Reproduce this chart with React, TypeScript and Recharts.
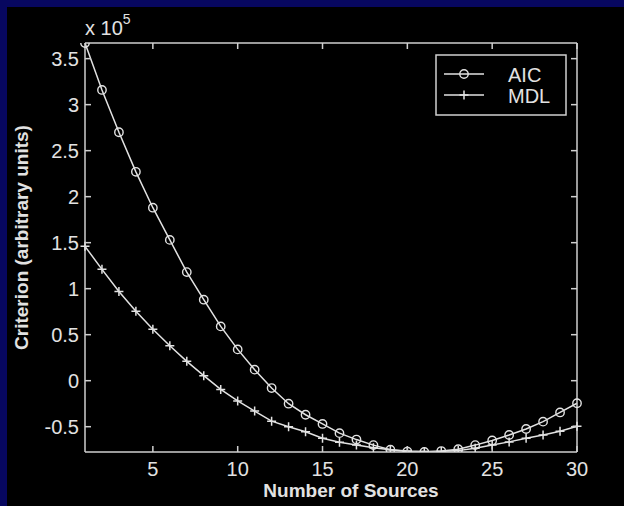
import React from "react";
import {
  LineChart,
  Line,
  XAxis,
  YAxis,
  Legend,
} from "recharts";

// number of sources (x)
const sources = [
  1, 2, 3, 4, 5, 6, 7, 8, 9, 10, 11, 12, 13, 14, 15,
  16, 17, 18, 19, 20, 21, 22, 23, 24, 25, 26, 27, 28, 29, 30,
];

// criterion values, in units of 1e5
const aic = [
  3.67, 3.16, 2.7, 2.27, 1.88, 1.53, 1.18, 0.88, 0.59, 0.34,
  0.12, -0.08, -0.25, -0.37, -0.47, -0.57, -0.64, -0.7, -0.75, -0.77,
  -0.775, -0.765, -0.745, -0.7, -0.65, -0.59, -0.525, -0.445, -0.345, -0.245,
];

const mdl = [
  1.46, 1.21, 0.97, 0.755, 0.56, 0.38, 0.21, 0.055, -0.095, -0.22,
  -0.33, -0.44, -0.5, -0.555, -0.625, -0.67, -0.7, -0.73, -0.75, -0.765,
  -0.77, -0.77, -0.76, -0.735, -0.7, -0.665, -0.625, -0.59, -0.55, -0.495,
];

const xTicks = [5, 10, 15, 20, 25, 30];
const yTicks = [-0.5, 0, 0.5, 1, 1.5, 2, 2.5, 3, 3.5];
const yDomain = [-0.775, 3.67];

const data = sources.map((n, i) => ({ n, aic: aic[i], mdl: mdl[i] }));

const FG = "#e2e2e2";
const AXIS = "#cfcfcf";
const NAVY = "#07075f";
const FONT = '"Liberation Sans", Arial, Helvetica, sans-serif';

function BottomTick({ x, y, payload }: any) {
  return (
    <g>
      <line x1={x} y1={y} x2={x} y2={y - 6} stroke={AXIS} strokeWidth={1.5} />
      <text x={x} y={y + 24} textAnchor="middle" fill={FG} fontSize={20} fontFamily={FONT}>
        {payload.value}
      </text>
    </g>
  );
}

function TopTick({ x, y }: any) {
  return <line x1={x} y1={y} x2={x} y2={y + 6} stroke={AXIS} strokeWidth={1.5} />;
}

function LeftTick({ x, y, payload }: any) {
  return (
    <g>
      <line x1={x} y1={y} x2={x + 6} y2={y} stroke={AXIS} strokeWidth={1.5} />
      <text x={x - 6} y={y} dy="0.36em" textAnchor="end" fill={FG} fontSize={20} fontFamily={FONT}>
        {payload.value}
      </text>
    </g>
  );
}

function RightTick({ x, y }: any) {
  return <line x1={x} y1={y} x2={x - 6} y2={y} stroke={AXIS} strokeWidth={1.5} />;
}

function CircleDot({ cx, cy, index }: any) {
  return <circle key={`c${index}`} cx={cx} cy={cy} r={4.2} fill="none" stroke={FG} strokeWidth={1.4} />;
}

function PlusDot({ cx, cy, index }: any) {
  return (
    <path
      key={`p${index}`}
      d={`M${cx - 4.5},${cy}H${cx + 4.5}M${cx},${cy - 4.5}V${cy + 4.5}`}
      stroke={FG}
      strokeWidth={1.5}
    />
  );
}

function LegendBox() {
  return (
    <svg width={132} height={62} style={{ display: "block" }}>
      <rect x={1} y={1} width={130} height={60} fill="#000" stroke={AXIS} strokeWidth={1.5} />
      <line x1={9} y1={20} x2={49} y2={20} stroke={FG} strokeWidth={1.5} />
      <circle cx={29} cy={20} r={4.2} fill="none" stroke={FG} strokeWidth={1.4} />
      <text x={73} y={28} fill={FG} fontSize={20} fontFamily={FONT}>AIC</text>
      <line x1={9} y1={41} x2={49} y2={41} stroke={FG} strokeWidth={1.5} />
      <path d="M24.5,41H33.5M29,36.5V45.5" stroke={FG} strokeWidth={1.5} />
      <text x={73} y={49} fill={FG} fontSize={20} fontFamily={FONT}>MDL</text>
    </svg>
  );
}

export default function App() {
  return (
    <div
      style={{
        position: "fixed",
        left: 0,
        top: 0,
        width: "100vw",
        height: "100vh",
        background: "#000",
        overflow: "hidden",
      }}
    >
      <style>{`html, body { margin: 0; padding: 0; background: #000; overflow: hidden; }`}</style>
      {/* navy frame on the left and top edges only */}
      <div style={{ position: "absolute", left: 0, top: 0, width: 7, height: "100%", background: NAVY }} />
      <div style={{ position: "absolute", left: 0, top: 0, width: "100%", height: 7, background: NAVY }} />
      <div style={{ position: "absolute", left: 0, top: 0 }}>
        <LineChart
          width={624}
          height={506}
          data={data}
          margin={{ top: 42, right: 46, bottom: 24, left: 0 }}
        >
          <XAxis
            dataKey="n"
            type="number"
            domain={[1, 30]}
            ticks={xTicks}
            height={30}
            tickSize={0}
            tickMargin={0}
            tick={<BottomTick />}
            axisLine={{ stroke: AXIS, strokeWidth: 1.5 }}
            label={{
              content: ({ viewBox }: any) => (
                <text
                  x={viewBox.x + viewBox.width / 2 + 20}
                  y={viewBox.y + 45}
                  textAnchor="middle"
                  fill={FG}
                  fontSize={19}
                  fontWeight="bold"
                  fontFamily={FONT}
                >
                  Number of Sources
                </text>
              ),
            }}
          />
          <XAxis
            xAxisId="top"
            dataKey="n"
            type="number"
            orientation="top"
            domain={[1, 30]}
            ticks={xTicks}
            height={1}
            tickSize={0}
            tickMargin={0}
            tick={<TopTick />}
            axisLine={{ stroke: AXIS, strokeWidth: 1.5 }}
            label={{
              content: ({ viewBox }: any) => (
                <text x={viewBox.x} y={viewBox.y - 7} fill={FG} fontSize={20} fontFamily={FONT}>
                  x 10
                  <tspan dy={-11} fontSize={14}>5</tspan>
                </text>
              ),
            }}
          />
          <YAxis
            yAxisId="left"
            type="number"
            domain={yDomain}
            allowDataOverflow
            ticks={yTicks}
            width={85}
            tickSize={0}
            tickMargin={0}
            tick={<LeftTick />}
            axisLine={{ stroke: AXIS, strokeWidth: 1.5 }}
            label={{
              content: ({ viewBox }: any) => {
                const cx = viewBox.x + 28;
                const cy = viewBox.y + viewBox.height / 2 - 10;
                return (
                  <text
                    x={cx}
                    y={cy}
                    transform={`rotate(-90 ${cx} ${cy})`}
                    textAnchor="middle"
                    fill={FG}
                    fontSize={19}
                    fontWeight="bold"
                    fontFamily={FONT}
                  >
                    Criterion (arbitrary units)
                  </text>
                );
              },
            }}
          />
          <YAxis
            yAxisId="right"
            orientation="right"
            type="number"
            domain={yDomain}
            allowDataOverflow
            ticks={yTicks}
            width={1}
            tickSize={0}
            tickMargin={0}
            tick={<RightTick />}
            axisLine={{ stroke: AXIS, strokeWidth: 1.5 }}
          />
          <Legend
            layout="vertical"
            align="center"
            verticalAlign="middle"
            wrapperStyle={{ position: "absolute", left: 435, top: 54, width: 132, height: 62 }}
            content={() => <LegendBox />}
          />
          {/* MDL uses the top/right axes (same scales) so the box axes render */}
          <Line
            xAxisId="top"
            yAxisId="right"
            dataKey="mdl"
            name="MDL"
            type="linear"
            stroke={FG}
            strokeWidth={1.5}
            dot={<PlusDot />}
            isAnimationActive={false}
          />
          <Line
            yAxisId="left"
            dataKey="aic"
            name="AIC"
            type="linear"
            stroke={FG}
            strokeWidth={1.5}
            dot={<CircleDot />}
            isAnimationActive={false}
          />
        </LineChart>
      </div>
    </div>
  );
}
